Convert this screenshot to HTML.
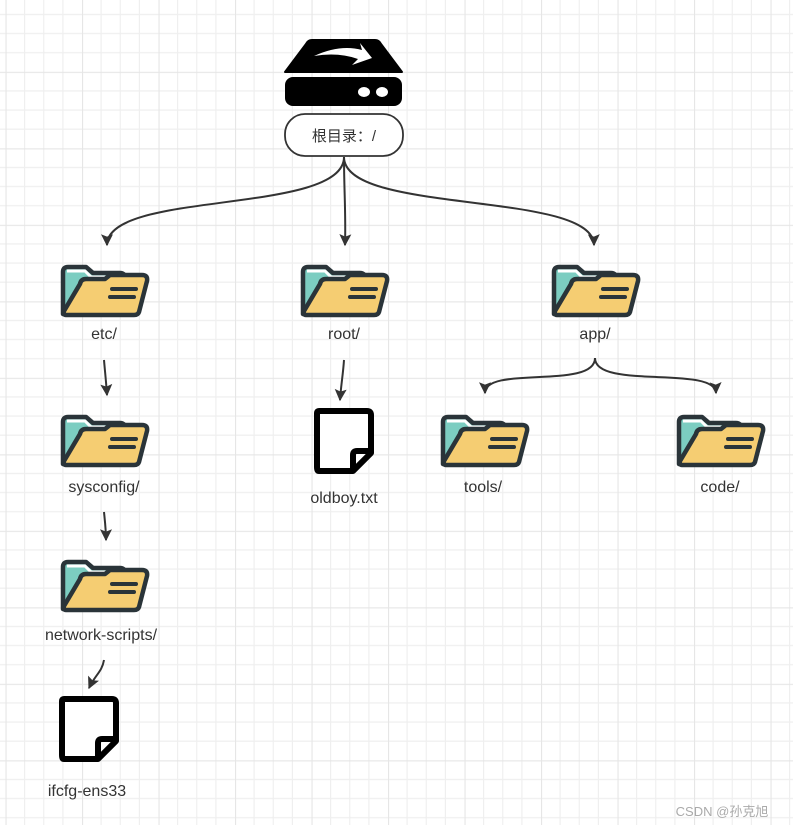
<!DOCTYPE html>
<html><head><meta charset="utf-8"><style>
html,body{margin:0;padding:0;background:#fff}
body{width:793px;height:825px;overflow:hidden;position:relative;font-family:"Liberation Sans","Noto Sans CJK SC",sans-serif}
</style></head><body>
<svg width="793" height="825" viewBox="0 0 793 825" xmlns="http://www.w3.org/2000/svg" style="position:absolute;left:0;top:0">
<defs>
<pattern id="g" x="5.5" y="-4.7" width="76.5" height="76.5" patternUnits="userSpaceOnUse">
<path d="M19.1 0V76.5M38.25 0V76.5M57.4 0V76.5M0 19.1H76.5M0 38.25H76.5M0 57.4H76.5" stroke="#efefef" stroke-width="1.2" fill="none"/>
<path d="M0 0V76.5M0 0H76.5" stroke="#e6e6e6" stroke-width="2.2" fill="none"/>
</pattern>
<marker id="a" viewBox="0 0 10 10" refX="9" refY="5" markerWidth="7" markerHeight="6" orient="auto" markerUnits="strokeWidth">
<path d="M0 0L10 5L0 10L2 5z" fill="#333"/></marker>
<g id="f">
<path d="M3 7Q3 2 8 2H26L33 8H60Q65 8 65 13V49H3Z" fill="#7ccdc1" stroke="#2a3439" stroke-width="4.5" stroke-linejoin="round"/>
<path d="M7 6H25L31 12H60" fill="none" stroke="#fff" stroke-width="3"/>
<path d="M20 19Q21 14 26 14H45L50 10H82Q88 10 87 16L79 47Q78 50 74 50H6Q3 50 4 46Z" fill="#f5cd72" stroke="#2a3439" stroke-width="4.5" stroke-linejoin="round"/>
<path d="M52 24H76M50 32H74" stroke="#2a3439" stroke-width="4" stroke-linecap="round"/>
</g>
<g id="d">
<path d="M6 4Q6 2 8 2H56Q60 2 60 6V44L42 62H8Q6 62 6 58Z" fill="#fff" stroke="#000" stroke-width="6" stroke-linejoin="round"/>
<path d="M60 42H46Q42 42 42 46V62" fill="none" stroke="#000" stroke-width="6" stroke-linejoin="round"/>
</g>
</defs>
<rect width="793" height="825" fill="url(#g)"/>
<!-- drive -->
<path d="M306 44Q308 40 312 40H375Q379 40 381 44L402 72H285Z" fill="#000" stroke="#000" stroke-width="2" stroke-linejoin="round"/>
<path d="M314 56Q340 44 362 50L360 43L372 58L352 65L358 59Q338 52 314 56Z" fill="#fff"/>
<rect x="285" y="77" width="117" height="29" rx="8" fill="#000"/>
<ellipse cx="364" cy="92" rx="6" ry="5" fill="#fff"/><ellipse cx="382" cy="92" rx="6" ry="5" fill="#fff"/>
<rect x="285" y="114" width="118" height="42" rx="20" fill="#fff" stroke="#333" stroke-width="1.8"/>
<text x="344" y="141" font-size="15" text-anchor="middle" fill="#333">根目录：/</text>
<!-- connectors -->
<g fill="none" stroke="#333" stroke-width="2" marker-end="url(#a)">
<path d="M344 157C344 215 107 190 107 245"/>
<path d="M344 157C344 190 346 215 345 245"/>
<path d="M344 157C344 215 593 190 594 245"/>
<path d="M104 360C105 372 106 380 107 395"/>
<path d="M104 512C105 522 106 530 106 540"/>
<path d="M104 660C102 672 95 675 89 688"/>
<path d="M344 360C343 375 341 385 340 400"/>
<path d="M595 358C595 390 485 365 485 393"/>
<path d="M595 358C595 390 715 365 716 393"/>
</g>
<!-- folders -->
<use href="#f" x="60" y="265"/><use href="#f" x="300" y="265"/><use href="#f" x="551" y="265"/>
<use href="#f" x="60" y="415"/><use href="#f" x="440" y="415"/><use href="#f" x="676" y="415"/>
<use href="#f" x="60" y="560"/>
<use href="#d" x="311" y="409"/><use href="#d" x="56" y="697"/>
<g font-size="16" fill="#333" text-anchor="middle">
<text x="104" y="339">etc/</text><text x="344" y="339">root/</text><text x="595" y="339">app/</text>
<text x="104" y="492">sysconfig/</text><text x="483" y="492">tools/</text><text x="720" y="492">code/</text>
<text x="344" y="503">oldboy.txt</text><text x="101" y="640">network-scripts/</text><text x="87" y="796">ifcfg-ens33</text>
</g>
<text x="722" y="816" font-size="13" fill="#aaa" text-anchor="middle">CSDN @孙克旭</text>
</svg>
</body></html>
